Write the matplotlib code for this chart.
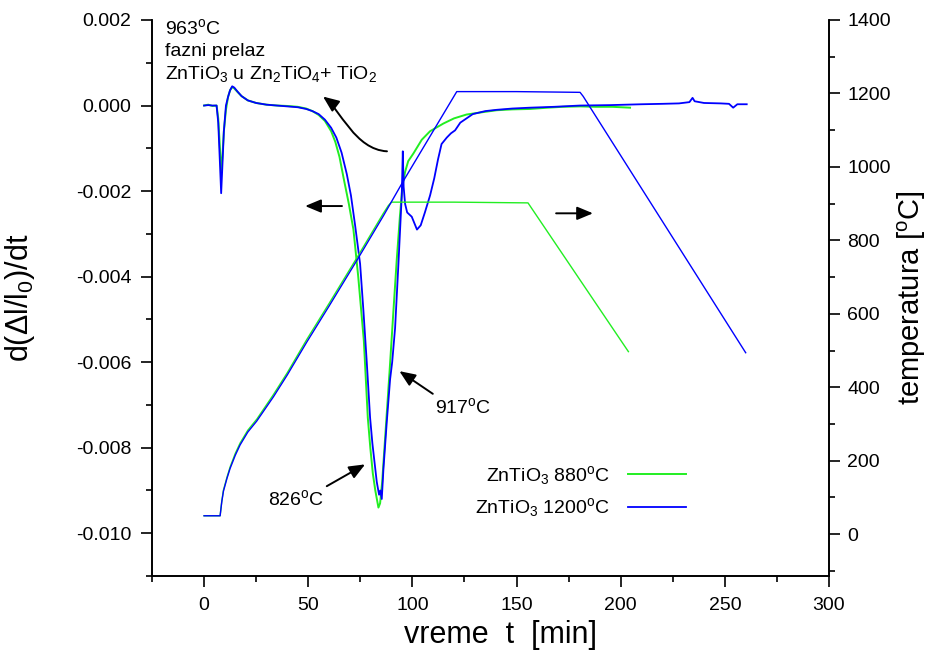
import matplotlib
matplotlib.use("Agg")
import matplotlib.pyplot as plt
from matplotlib.path import Path
from matplotlib.patches import FancyArrowPatch
from matplotlib.ticker import MultipleLocator, FormatStrFormatter

# ---------------- data ----------------
# derivative d(dl/l0)/dt, sample sintered at 880 C (green)
t_green = [0, 2, 4, 6, 6.8, 7.5, 8.2, 8.8, 9.5, 10.5,
           11.5, 12.5, 13.5, 14.5, 16, 18, 21, 25, 30, 35,
           40, 45, 49, 52, 55, 58, 61, 63, 65, 67,
           69.5, 71.7, 74, 76.7, 78.6, 79.8, 81, 82.2, 83.7, 84.5,
           85.5, 86.6, 87.7, 89.2, 90.9, 92.5, 94, 95.2, 96.5, 98,
           100.5, 104.5, 108.5, 114.9, 120, 126, 133, 140.5, 148, 156.5,
           165, 172, 180.5, 188, 196, 204.5]
d_green = [0, 0.00002, -0.00001, 0, -0.0003, -0.0009, -0.00153, -0.0012, -0.0006, -0.0001,
           0.0002, 0.00036, 0.00043, 0.0004, 0.00032, 0.00022, 0.00012, 0.00006, 0.00002, 0.0,
           -0.00001, -0.00003, -0.00007, -0.00013, -0.00022, -0.00036, -0.0006, -0.00085, -0.0012, -0.0017,
           -0.0023, -0.0029, -0.004, -0.0055, -0.0073, -0.008, -0.0086, -0.009, -0.0094, -0.0093,
           -0.0088, -0.008, -0.0072, -0.0061, -0.0048, -0.0036, -0.0026, -0.0019, -0.00155, -0.0013,
           -0.00112, -0.0008, -0.0006, -0.00042, -0.0003, -0.00021, -0.00016, -0.00011, -0.00009, -0.00008,
           -0.00005, -0.00003, -0.00002, -0.00003, -0.00003, -0.00005]

# derivative, sample sintered at 1200 C (blue)
t_blue = [0, 2, 4, 6, 6.8, 7.4, 8.2, 8.8, 9.5, 10.5,
          11.5, 12.5, 13.5, 14.5, 16, 18, 21, 25, 30, 35,
          40, 45, 49, 52, 55, 58, 61, 63.5, 66, 68.5,
          70.5, 72.5, 74.9, 76.5, 78.1, 79.7, 80.8, 82.9, 84.0, 84.6,
          85.3, 86.1, 87.7, 89.3, 90.3, 91.7, 93.3, 94.9, 95.4, 95.8,
          96.5, 97.5, 99.7, 102.2, 104, 106, 108.5, 110.5, 112.3, 114,
          116.5, 118.5, 120.5, 123, 126, 129, 135, 140.5, 148, 156.5,
          168, 180.5, 195, 210, 220, 228, 233, 234.5, 235.5, 240,
          248, 252, 254, 256, 260.5]
d_blue = [0, 0.00001, 0, 0, -0.0004, -0.0011, -0.00205, -0.0014, -0.0006, 0.0,
          0.0002, 0.00036, 0.00045, 0.00042, 0.00033, 0.00022, 0.00012, 0.00006, 0.00002, 0.0,
          -0.00002, -0.00004, -0.00008, -0.00013, -0.0002, -0.00033, -0.00052, -0.00075, -0.0011, -0.0016,
          -0.0021, -0.0028, -0.0037, -0.0048, -0.006, -0.0073, -0.0079, -0.0088, -0.0091, -0.0090,
          -0.0092, -0.0085, -0.0074, -0.0064, -0.0060, -0.0052, -0.0037, -0.0021, -0.00107, -0.0019,
          -0.0023, -0.0025, -0.0026, -0.0029, -0.0028, -0.0025, -0.0021, -0.0017, -0.00126, -0.0009,
          -0.00075, -0.00065, -0.00058, -0.0004, -0.0003, -0.0002, -0.00013, -0.0001, -0.00007, -0.00005,
          -0.00003, 0.0, 0.00001, 0.00003, 0.00004, 0.00005, 0.00008, 0.00018, 0.0001, 0.00006,
          0.00005, 0.00004, -0.00005, 0.00003, 0.00003]

# temperature programmes (right axis)
tT_green = [0, 7.7, 8.5, 9.3, 11, 12.5, 15, 17.3, 21, 25.3, 33.3, 40, 49.3, 60, 73.3, 86,
            88.5, 90, 120, 155.5, 203.7]
T_green = [50, 50, 90, 120, 155, 183, 220, 248, 283, 313, 380, 440, 530, 628, 752, 873,
           895, 904, 904, 902, 497]
tT_blue = [0, 7.7, 8.5, 9.3, 11, 12.5, 15, 17.3, 21, 25.3, 33.3, 40, 49.3, 60, 73.3, 86,
           95.7, 121.3, 150, 180.5, 182, 260]
T_blue = [50, 50, 88, 117, 152, 179, 215, 243, 278, 308, 374, 434, 523, 621, 745, 866,
          962, 1205, 1205, 1203, 1192, 494]

labels = ["ZnTiO$_3$ 880$^o$C", "ZnTiO$_3$ 1200$^o$C"]
x_ticks = [0, 50, 100, 150, 200, 250, 300]
y_ticks = [-0.010, -0.008, -0.006, -0.004, -0.002, 0.000, 0.002]
T_ticks = [0, 200, 400, 600, 800, 1000, 1200, 1400]

GREEN = "#22ee22"
BLUE = "#0000ff"

plt.rcParams["font.family"] = ["Liberation Sans", "DejaVu Sans"]
plt.rcParams["mathtext.default"] = "regular"
plt.rcParams["axes.unicode_minus"] = False

fig = plt.figure(figsize=(9.31, 6.55), dpi=100)
ax = fig.add_axes([152 / 931, 1 - 576 / 655, (829 - 152) / 931, (576 - 20) / 655])
ax2 = ax.twinx()

ax.plot(t_green, d_green, color=GREEN, lw=1.4, label=labels[0])
ax.plot(t_blue, d_blue, color=BLUE, lw=1.3, label=labels[1])
ax2.plot(tT_green, T_green, color=GREEN, lw=1.0)
ax2.plot(tT_blue, T_blue, color=BLUE, lw=1.0)

ax.set_xlim(-25, 300)
ax.set_ylim(-0.011, 0.002)
ax2.set_ylim(-114, 1400)

for a in (ax, ax2):
    a.spines["top"].set_visible(False)
    for s in ("left", "right", "bottom"):
        a.spines[s].set_linewidth(1.2)

ax.set_xticks(x_ticks)
ax.xaxis.set_minor_locator(MultipleLocator(25))
ax.set_yticks(y_ticks)
ax.yaxis.set_major_formatter(FormatStrFormatter("%.3f"))
ax.yaxis.set_minor_locator(MultipleLocator(0.001))
ax2.set_yticks(T_ticks)
ax2.yaxis.set_minor_locator(MultipleLocator(100))

ax.tick_params(axis="both", which="major", direction="out", length=8, width=1.2,
               labelsize=14, pad=7, right=False, top=False)
ax.tick_params(axis="both", which="minor", direction="out", length=4.5, width=1.2,
               right=False, top=False)
ax2.tick_params(axis="y", which="major", direction="out", length=8, width=1.2,
                labelsize=14, pad=5)
ax2.tick_params(axis="y", which="minor", direction="out", length=4.5, width=1.2)

ax.set_xlabel("vreme  t  [min]", fontsize=22)
ax.xaxis.set_label_coords(0.515, -0.08)
ax.set_ylabel("d($\\Delta$l/l$_0$)/dt", fontsize=22)
ax.yaxis.set_label_coords(-0.17, 0.5)
ax2.set_ylabel("temperatura [$^o$C]", fontsize=21)
ax2.yaxis.set_label_coords(1.099, 0.5)

# ---------------- annotations ----------------
txt_kw = dict(fontsize=14, color="black")
ax.text(-18.7, 0.00168, "963$^o$C", **txt_kw)
ax.text(-18.7, 0.00115, "fazni prelaz", **txt_kw)
ax.text(-18.7, 0.00061, "ZnTiO$_3$ u Zn$_2$TiO$_4$+ TiO$_2$", **txt_kw)
ax.text(110.9, -0.00704, "917$^o$C", va="center", **txt_kw)
ax.text(30.7, -0.0092, "826$^o$C", va="center", **txt_kw)

arrow_kw = dict(arrowstyle="-|>,head_length=0.6,head_width=0.25", color="black",
                lw=1.4, mutation_scale=16, shrinkA=0, shrinkB=0)
ax.annotate("", xy=(48.5, -0.00235), xytext=(66.2, -0.00235), arrowprops=arrow_kw)
ax.annotate("", xy=(186.7, -0.00252), xytext=(169.0, -0.00252), arrowprops=arrow_kw)
ax.annotate("", xy=(93.75, -0.00621), xytext=(109.8, -0.00674), arrowprops=arrow_kw)
ax.annotate("", xy=(77.3, -0.00839), xytext=(58.9, -0.0089), arrowprops=arrow_kw)

curve = Path([(87.8, -0.00107), (72.5, -0.00103), (65.3, -0.00009), (57.1, 0.00021)],
             [Path.MOVETO, Path.CURVE4, Path.CURVE4, Path.CURVE4])
ax.add_patch(FancyArrowPatch(path=curve, transform=ax.transData,
                             arrowstyle="-|>,head_length=0.6,head_width=0.25",
                             color="black", lw=1.4, mutation_scale=16))

leg = ax.legend(loc="upper right", bbox_to_anchor=(696 / 931, 1 - 454 / 655),
                bbox_transform=fig.transFigure, frameon=False, markerfirst=False,
                fontsize=14, handlelength=3.0, handletextpad=0.95, labelspacing=0.5,
                borderpad=0)

fig.savefig("out.png", dpi=100)
